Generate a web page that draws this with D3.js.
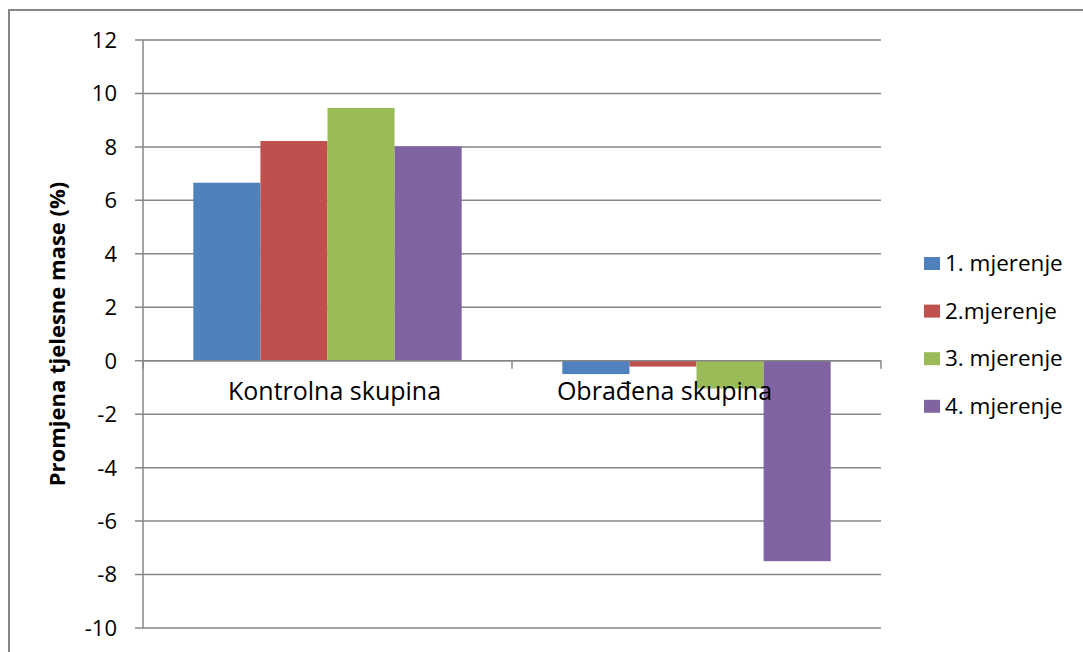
<!DOCTYPE html>
<html>
<head>
<meta charset="utf-8">
<script src="https://cdn.jsdelivr.net/npm/d3@7"></script>
<style>
  body { margin: 0; background: #fff; }
  text { font-family: "Open Sans", "Noto Sans", sans-serif; fill: #000; }
</style>
</head>
<body>
<div id="chart"></div>
<script>
var categories = ['Kontrolna skupina', 'Obrađena skupina'];
var seriesNames = ['1. mjerenje', '2.mjerenje', '3. mjerenje', '4. mjerenje'];
var seriesColors = ['#4f81bd', '#c0504d', '#9bbb59', '#8064a2'];
// values per series, one per category
var values = [
  [6.66, -0.5],
  [8.22, -0.22],
  [9.46, -1.04],
  [8.02, -7.5]
];
var yTicks = [-10, -8, -6, -4, -2, 0, 2, 4, 6, 8, 10, 12];

var W = 1083, H = 652;
var plotLeft = 143, plotRight = 881, plotTop = 40, plotBottom = 628;
// the original places its category labels slightly off-centre
var labelShift = [7, -32];

var svg = d3.select('#chart').append('svg').attr('width', W).attr('height', H);

// outer chart frame
svg.append('rect')
  .attr('x', 9).attr('y', 10).attr('width', W + 20).attr('height', H + 20)
  .attr('fill', 'none').attr('stroke', '#868686').attr('stroke-width', 2);

var y = d3.scaleLinear().domain([-10, 12]).range([plotBottom, plotTop]);
var x0 = d3.scaleBand().domain(categories).range([plotLeft, plotRight]).paddingInner(0).paddingOuter(0);
// gap width 150% -> 4 bars + 1.5 bar widths of gap per category
var x1 = d3.scaleBand().domain(d3.range(seriesNames.length))
  .range([0, x0.bandwidth()]).paddingOuter(0.75).paddingInner(0);

// gridlines
svg.append('g').selectAll('line').data(yTicks).enter().append('line')
  .attr('x1', plotLeft - 8).attr('x2', plotRight)
  .attr('y1', function(d) { return y(d); })
  .attr('y2', function(d) { return y(d); })
  .attr('stroke', '#868686').attr('stroke-width', 1.5);

// y axis line
svg.append('line')
  .attr('x1', plotLeft).attr('x2', plotLeft).attr('y1', plotTop).attr('y2', plotBottom)
  .attr('stroke', '#868686').attr('stroke-width', 1.5);

// tick labels
svg.append('g').selectAll('text').data(yTicks).enter().append('text')
  .attr('x', 117).attr('y', function(d) { return y(d); })
  .attr('dy', '0.36em').attr('text-anchor', 'end')
  .style('font-size', '22px')
  .text(function(d) { return d; });

// bars
var groups = svg.append('g').selectAll('g').data(seriesNames).enter().append('g')
  .attr('fill', function(d, i) { return seriesColors[i]; });

groups.selectAll('rect')
  .data(function(d, i) { return values[i].map(function(v, j) { return { s: i, c: categories[j], v: v }; }); })
  .enter().append('rect')
  .attr('x', function(d) { return x0(d.c) + x1(d.s); })
  .attr('width', x1.bandwidth())
  .attr('y', function(d) { return y(Math.max(0, d.v)); })
  .attr('height', function(d) { return Math.abs(y(d.v) - y(0)); });

// zero axis line with category ticks
svg.append('line')
  .attr('x1', plotLeft).attr('x2', plotRight).attr('y1', y(0)).attr('y2', y(0))
  .attr('stroke', '#868686').attr('stroke-width', 1.5);
var boundaries = [plotLeft, plotLeft + x0.bandwidth(), plotRight];
svg.append('g').selectAll('line').data(boundaries).enter().append('line')
  .attr('x1', function(d) { return d; }).attr('x2', function(d) { return d; })
  .attr('y1', y(0)).attr('y2', y(0) + 8)
  .attr('stroke', '#868686').attr('stroke-width', 1.5);

// category labels
svg.append('g').selectAll('text').data(categories).enter().append('text')
  .attr('x', function(d, i) { return x0(d) + x0.bandwidth() / 2 + labelShift[i]; })
  .attr('y', y(0) + 39)
  .attr('text-anchor', 'middle')
  .style('font-size', '25px')
  .text(function(d) { return d; });

// y axis title
svg.append('text')
  .attr('transform', 'translate(65,' + ((plotTop + plotBottom) / 2) + ') rotate(-90)')
  .attr('text-anchor', 'middle')
  .style('font-size', '22px').style('font-weight', 'bold')
  .text('Promjena tjelesne mase (%)');

// legend
var legend = svg.append('g').selectAll('g').data(seriesNames).enter().append('g')
  .attr('transform', function(d, i) { return 'translate(924,' + (263 + i * 47.6) + ')'; });
legend.append('rect')
  .attr('x', 0).attr('y', -6).attr('width', 16).attr('height', 13)
  .attr('fill', function(d, i) { return seriesColors[i]; });
legend.append('text')
  .attr('x', 21).attr('y', 0).attr('dy', '0.36em')
  .style('font-size', '22.5px')
  .text(function(d) { return d; });
</script>
</body>
</html>
